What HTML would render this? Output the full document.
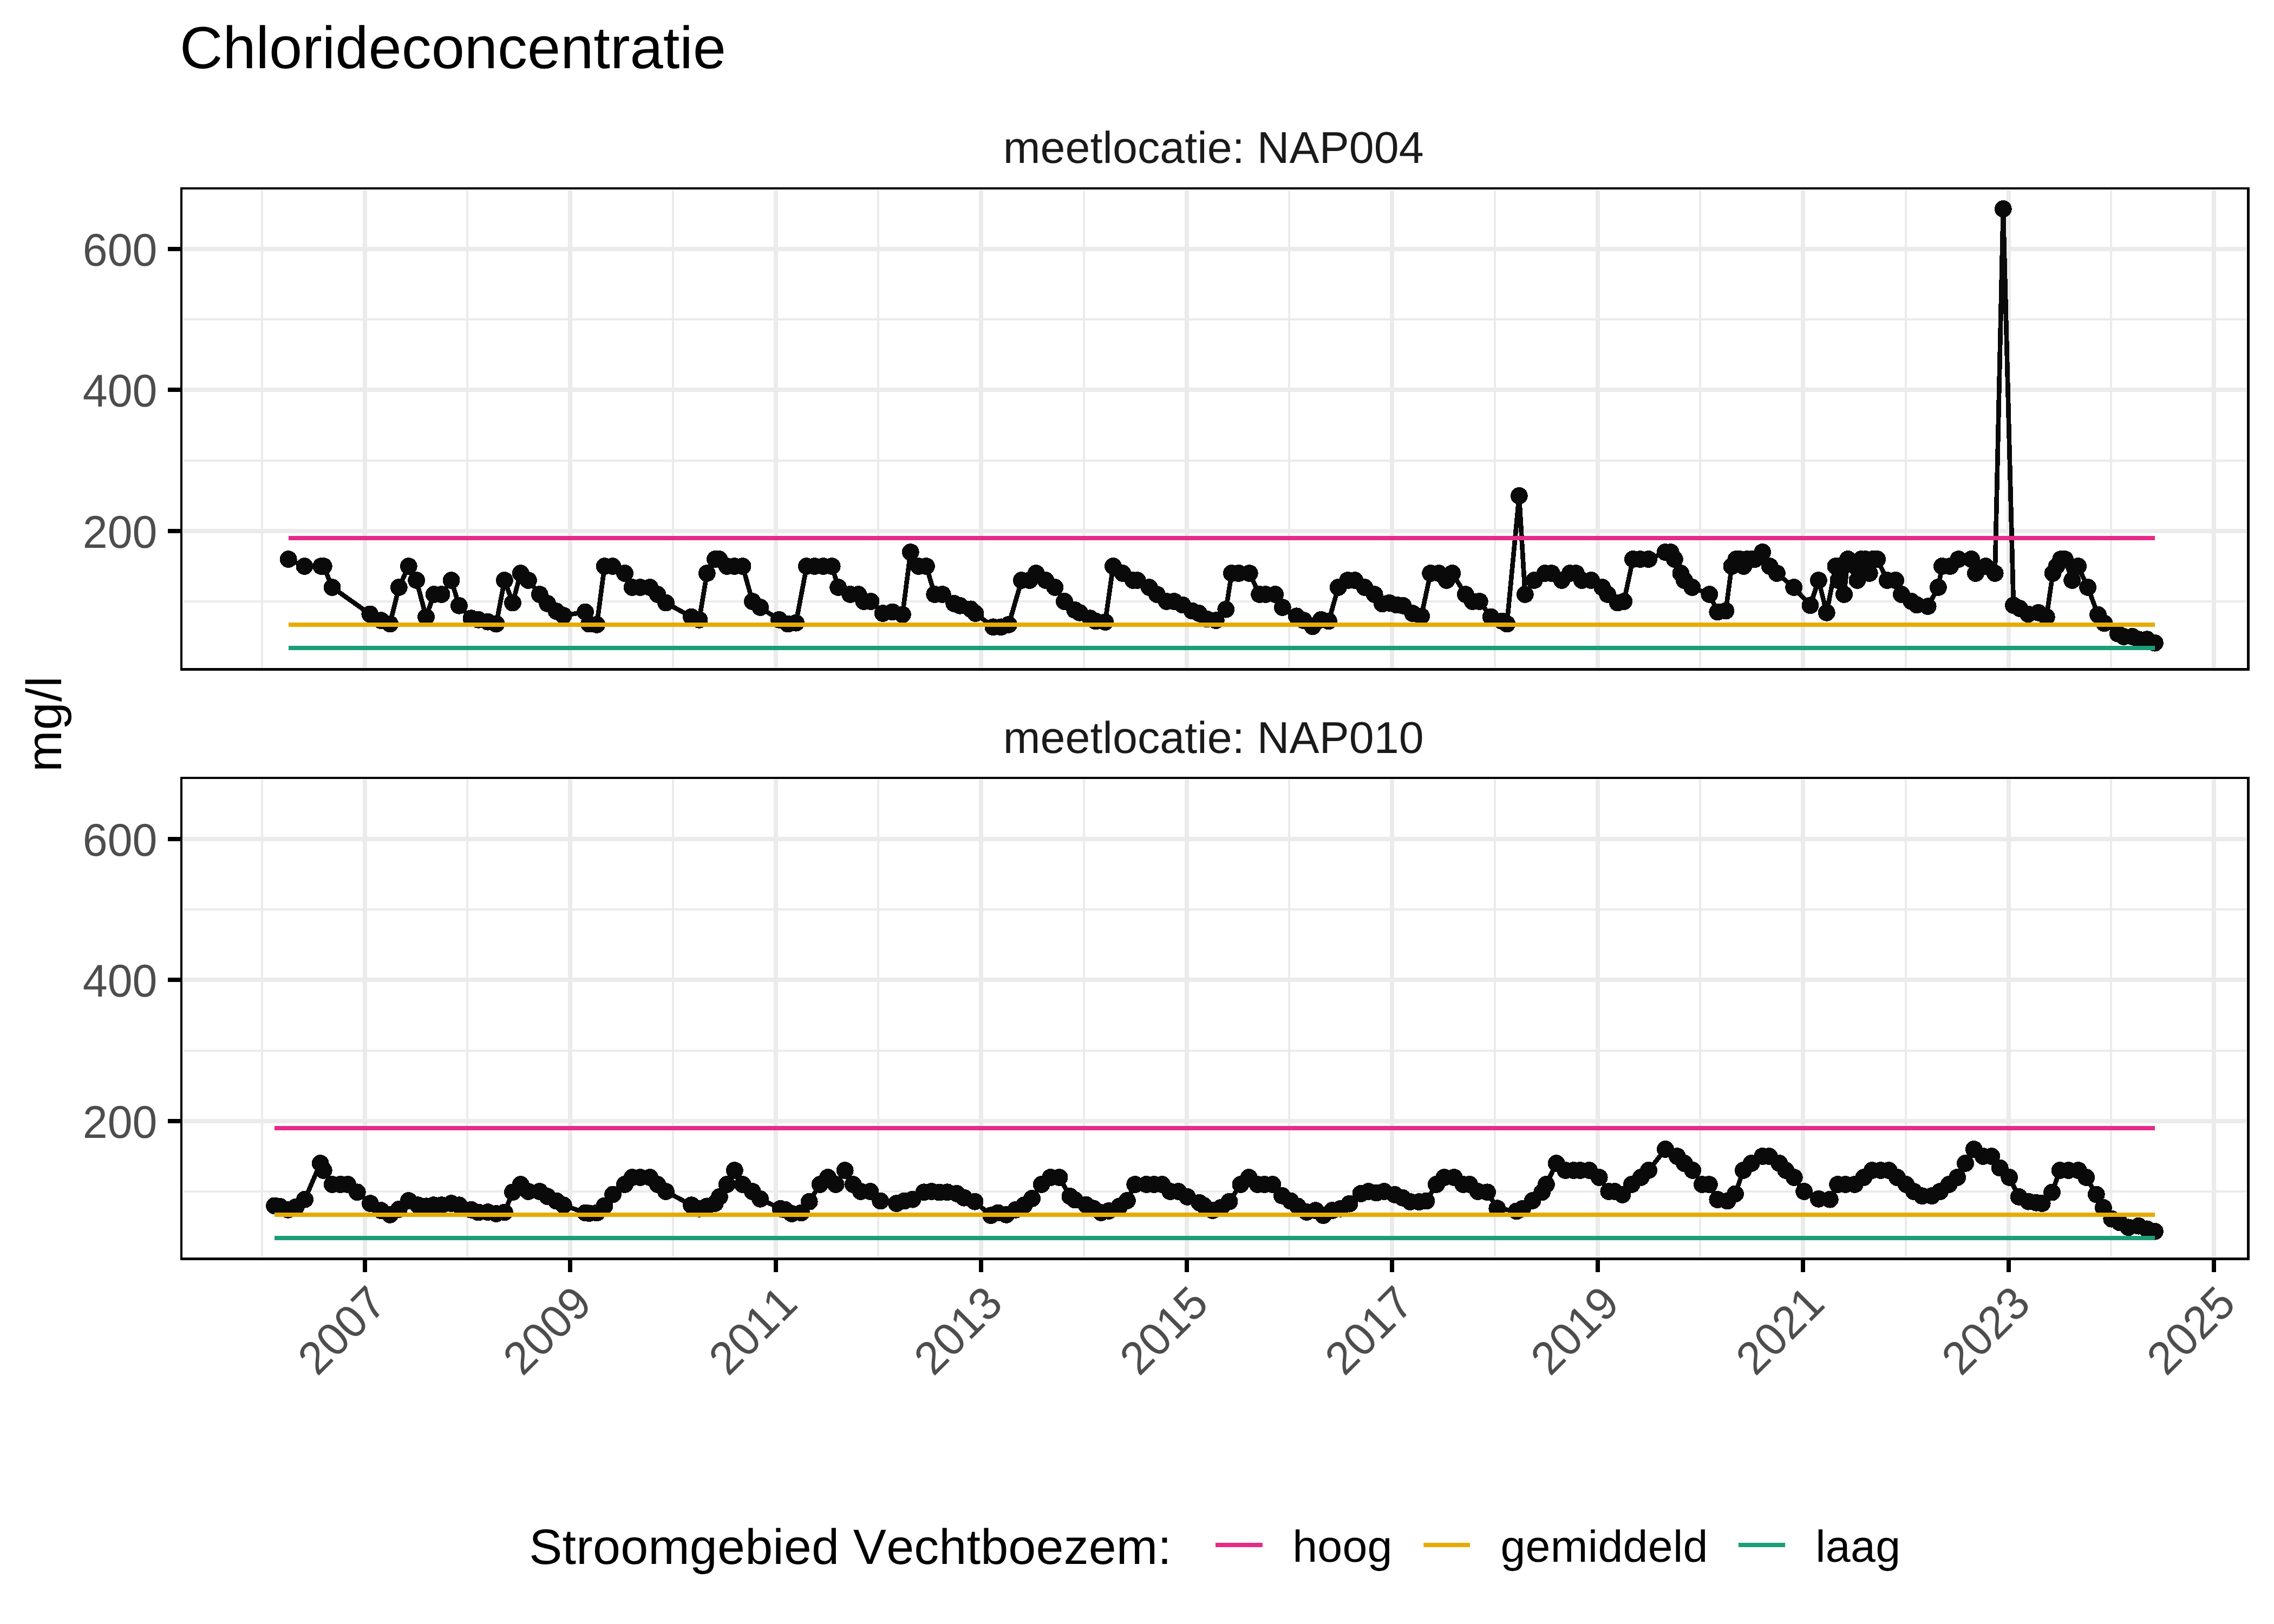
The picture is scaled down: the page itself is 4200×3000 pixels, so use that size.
<!DOCTYPE html>
<html lang="nl"><head><meta charset="utf-8"><title>Chlorideconcentratie</title>
<style>html,body{margin:0;padding:0;background:#fff}body{width:4200px;height:3000px;overflow:hidden}svg{display:block}text{font-family:"Liberation Sans",Arial,sans-serif;font-kerning:none;text-rendering:geometricPrecision}</style></head><body>
<svg width="4200" height="3000" viewBox="0 0 4200 3000">
<rect width="4200" height="3000" fill="#fff"/>
<defs>
<clipPath id="c0"><rect x="333" y="346" width="3822" height="893"/></clipPath>
<clipPath id="g0"><rect x="338" y="351" width="3811" height="882"/></clipPath>
<clipPath id="c1"><rect x="333" y="1435" width="3822" height="893"/></clipPath>
<clipPath id="g1"><rect x="338" y="1440" width="3811" height="882"/></clipPath>
</defs>
<text x="332" y="126.4" font-size="110" fill="#000">Chlorideconcentratie</text>
<g clip-path="url(#g0)">
<path d="M333 1111.0H4155M333 851.0H4155M333 590.0H4155M484 346V1239M863 346V1239M1243 346V1239M1622 346V1239M2002 346V1239M2381 346V1239M2761 346V1239M3140 346V1239M3520 346V1239M3899 346V1239" stroke="#ebebeb" stroke-width="4" fill="none"/>
<path d="M333 981.0H4155M333 720.0H4155M333 460.0H4155M674 346V1239M1053 346V1239M1433 346V1239M1812 346V1239M2192 346V1239M2571 346V1239M2951 346V1239M3330 346V1239M3710 346V1239M4089 346V1239" stroke="#ebebeb" stroke-width="8" fill="none"/>
</g>
<g clip-path="url(#c0)" shape-rendering="crispEdges">
<polyline points="532.7,1033.0 562.4,1046.0 593.2,1046.0 597.8,1046.0 613.6,1085.0 683.3,1134.4 703.8,1146.1 720.3,1152.6 736.8,1085.0 754.8,1046.0 769.1,1072.0 786.9,1139.6 801.6,1098.0 815.6,1098.0 833.6,1072.0 847.9,1118.8 870.4,1142.2 883.6,1144.8 901.1,1148.7 916.5,1152.6 931.9,1072.0 946.9,1113.6 961.6,1059.0 975.9,1072.0 996.8,1098.0 1011.1,1114.9 1027.6,1129.2 1040.8,1137.0 1081.0,1130.5 1088.0,1152.6 1102.3,1153.9 1116.6,1046.0 1131.4,1046.0 1154.0,1059.0 1167.6,1085.0 1182.6,1085.0 1200.2,1085.0 1214.5,1098.0 1229.9,1113.6 1277.1,1139.6 1291.5,1144.8 1305.8,1059.0 1321.0,1033.0 1328.3,1033.0 1342.6,1046.0 1356.9,1046.0 1371.6,1046.0 1389.8,1111.0 1404.1,1122.0 1438.9,1144.8 1455.1,1152.6 1470.1,1150.7 1489.9,1046.0 1504.2,1046.0 1520.7,1046.0 1536.7,1046.0 1548.1,1085.0 1570.1,1098.0 1585.5,1098.0 1595.4,1111.0 1608.6,1111.0 1630.6,1133.1 1648.2,1130.5 1666.9,1135.2 1681.8,1020.0 1696.6,1046.0 1710.9,1046.0 1726.2,1098.0 1740.8,1098.0 1762.2,1114.9 1773.0,1118.8 1792.8,1125.3 1801.6,1133.1 1834.5,1158.3 1848.8,1158.3 1863.1,1153.9 1886.9,1072.0 1901.6,1072.0 1913.7,1059.0 1931.3,1072.0 1948.4,1085.0 1966.0,1111.0 1985.2,1127.0 1994.0,1131.8 2013.7,1142.2 2023.6,1147.4 2041.2,1149.1 2056.0,1046.0 2073.5,1059.0 2092.9,1072.0 2100.6,1072.0 2122.6,1085.0 2136.9,1098.0 2154.5,1111.0 2168.8,1111.0 2184.2,1117.5 2201.7,1128.5 2214.5,1133.1 2229.0,1143.5 2245.8,1146.1 2264.3,1125.7 2274.9,1059.0 2288.0,1059.0 2307.8,1059.0 2326.1,1098.0 2337.5,1098.0 2355.1,1098.0 2368.8,1122.0 2394.7,1138.3 2407.9,1146.1 2424.4,1157.2 2439.8,1144.8 2454.1,1147.4 2471.7,1085.0 2489.2,1072.0 2502.4,1072.0 2520.5,1085.0 2538.7,1098.0 2553.0,1115.4 2566.2,1113.9 2579.4,1117.5 2591.5,1118.8 2609.1,1133.1 2625.1,1138.3 2642.1,1059.0 2657.4,1059.0 2671.7,1072.0 2682.1,1059.0 2706.8,1098.0 2719.6,1111.0 2732.8,1111.0 2753.7,1139.6 2774.5,1147.4 2783.3,1152.6 2805.8,915.9 2816.8,1098.0 2833.9,1072.0 2853.7,1059.0 2865.8,1059.0 2884.5,1072.0 2899.9,1059.0 2910.9,1059.0 2921.9,1072.0 2939.0,1072.0 2959.2,1085.0 2969.1,1098.0 2987.8,1113.6 2999.3,1111.0 3016.0,1033.0 3029.6,1033.0 3045.0,1033.0 3075.8,1020.0 3085.7,1020.0 3092.9,1033.0 3104.4,1059.0 3111.0,1072.0 3125.3,1085.0 3157.3,1098.0 3172.3,1130.5 3187.4,1128.5 3198.4,1046.0 3206.5,1033.0 3213.4,1033.0 3220.4,1046.0 3226.5,1033.0 3234.3,1033.0 3241.5,1033.0 3255.1,1020.0 3268.7,1046.0 3281.9,1059.0 3313.1,1085.0 3343.5,1118.3 3358.9,1072.0 3373.8,1131.8 3390.4,1046.0 3395.4,1072.0 3397.5,1046.0 3406.0,1098.0 3413.0,1033.0 3426.6,1046.0 3430.4,1072.0 3437.7,1033.0 3445.6,1033.0 3452.8,1059.0 3459.1,1033.0 3467.1,1033.0 3485.8,1072.0 3501.0,1072.0 3512.0,1098.0 3530.4,1111.0 3540.3,1117.5 3560.7,1120.1 3579.9,1085.0 3587.0,1046.0 3602.0,1046.0 3617.2,1033.0 3641.0,1033.0 3649.0,1059.0 3667.3,1046.0 3684.7,1059.0 3699.8,385.9 3718.9,1118.2 3730.4,1124.0 3745.8,1134.4 3765.1,1131.8 3779.8,1139.6 3791.5,1059.0 3798.5,1046.0 3806.2,1033.0 3813.9,1033.0 3827.1,1072.0 3838.1,1046.0 3856.1,1085.0 3875.0,1135.7 3886.5,1151.3 3911.8,1170.8 3922.8,1176.0 3938.1,1176.0 3950.2,1181.2 3965.6,1181.2 3979.9,1187.7" fill="none" stroke="#0a0a0a" stroke-width="8.7" stroke-linejoin="round" stroke-linecap="butt"/>
<path d="M532.7 1033.0h.01M562.4 1046.0h.01M593.2 1046.0h.01M597.8 1046.0h.01M613.6 1085.0h.01M683.3 1134.4h.01M703.8 1146.1h.01M720.3 1152.6h.01M736.8 1085.0h.01M754.8 1046.0h.01M769.1 1072.0h.01M786.9 1139.6h.01M801.6 1098.0h.01M815.6 1098.0h.01M833.6 1072.0h.01M847.9 1118.8h.01M870.4 1142.2h.01M883.6 1144.8h.01M901.1 1148.7h.01M916.5 1152.6h.01M931.9 1072.0h.01M946.9 1113.6h.01M961.6 1059.0h.01M975.9 1072.0h.01M996.8 1098.0h.01M1011.1 1114.9h.01M1027.6 1129.2h.01M1040.8 1137.0h.01M1081.0 1130.5h.01M1088.0 1152.6h.01M1102.3 1153.9h.01M1116.6 1046.0h.01M1131.4 1046.0h.01M1154.0 1059.0h.01M1167.6 1085.0h.01M1182.6 1085.0h.01M1200.2 1085.0h.01M1214.5 1098.0h.01M1229.9 1113.6h.01M1277.1 1139.6h.01M1291.5 1144.8h.01M1305.8 1059.0h.01M1321.0 1033.0h.01M1328.3 1033.0h.01M1342.6 1046.0h.01M1356.9 1046.0h.01M1371.6 1046.0h.01M1389.8 1111.0h.01M1404.1 1122.0h.01M1438.9 1144.8h.01M1455.1 1152.6h.01M1470.1 1150.7h.01M1489.9 1046.0h.01M1504.2 1046.0h.01M1520.7 1046.0h.01M1536.7 1046.0h.01M1548.1 1085.0h.01M1570.1 1098.0h.01M1585.5 1098.0h.01M1595.4 1111.0h.01M1608.6 1111.0h.01M1630.6 1133.1h.01M1648.2 1130.5h.01M1666.9 1135.2h.01M1681.8 1020.0h.01M1696.6 1046.0h.01M1710.9 1046.0h.01M1726.2 1098.0h.01M1740.8 1098.0h.01M1762.2 1114.9h.01M1773.0 1118.8h.01M1792.8 1125.3h.01M1801.6 1133.1h.01M1834.5 1158.3h.01M1848.8 1158.3h.01M1863.1 1153.9h.01M1886.9 1072.0h.01M1901.6 1072.0h.01M1913.7 1059.0h.01M1931.3 1072.0h.01M1948.4 1085.0h.01M1966.0 1111.0h.01M1985.2 1127.0h.01M1994.0 1131.8h.01M2013.7 1142.2h.01M2023.6 1147.4h.01M2041.2 1149.1h.01M2056.0 1046.0h.01M2073.5 1059.0h.01M2092.9 1072.0h.01M2100.6 1072.0h.01M2122.6 1085.0h.01M2136.9 1098.0h.01M2154.5 1111.0h.01M2168.8 1111.0h.01M2184.2 1117.5h.01M2201.7 1128.5h.01M2214.5 1133.1h.01M2229.0 1143.5h.01M2245.8 1146.1h.01M2264.3 1125.7h.01M2274.9 1059.0h.01M2288.0 1059.0h.01M2307.8 1059.0h.01M2326.1 1098.0h.01M2337.5 1098.0h.01M2355.1 1098.0h.01M2368.8 1122.0h.01M2394.7 1138.3h.01M2407.9 1146.1h.01M2424.4 1157.2h.01M2439.8 1144.8h.01M2454.1 1147.4h.01M2471.7 1085.0h.01M2489.2 1072.0h.01M2502.4 1072.0h.01M2520.5 1085.0h.01M2538.7 1098.0h.01M2553.0 1115.4h.01M2566.2 1113.9h.01M2579.4 1117.5h.01M2591.5 1118.8h.01M2609.1 1133.1h.01M2625.1 1138.3h.01M2642.1 1059.0h.01M2657.4 1059.0h.01M2671.7 1072.0h.01M2682.1 1059.0h.01M2706.8 1098.0h.01M2719.6 1111.0h.01M2732.8 1111.0h.01M2753.7 1139.6h.01M2774.5 1147.4h.01M2783.3 1152.6h.01M2805.8 915.9h.01M2816.8 1098.0h.01M2833.9 1072.0h.01M2853.7 1059.0h.01M2865.8 1059.0h.01M2884.5 1072.0h.01M2899.9 1059.0h.01M2910.9 1059.0h.01M2921.9 1072.0h.01M2939.0 1072.0h.01M2959.2 1085.0h.01M2969.1 1098.0h.01M2987.8 1113.6h.01M2999.3 1111.0h.01M3016.0 1033.0h.01M3029.6 1033.0h.01M3045.0 1033.0h.01M3075.8 1020.0h.01M3085.7 1020.0h.01M3092.9 1033.0h.01M3104.4 1059.0h.01M3111.0 1072.0h.01M3125.3 1085.0h.01M3157.3 1098.0h.01M3172.3 1130.5h.01M3187.4 1128.5h.01M3198.4 1046.0h.01M3206.5 1033.0h.01M3213.4 1033.0h.01M3220.4 1046.0h.01M3226.5 1033.0h.01M3234.3 1033.0h.01M3241.5 1033.0h.01M3255.1 1020.0h.01M3268.7 1046.0h.01M3281.9 1059.0h.01M3313.1 1085.0h.01M3343.5 1118.3h.01M3358.9 1072.0h.01M3373.8 1131.8h.01M3390.4 1046.0h.01M3395.4 1072.0h.01M3397.5 1046.0h.01M3406.0 1098.0h.01M3413.0 1033.0h.01M3426.6 1046.0h.01M3430.4 1072.0h.01M3437.7 1033.0h.01M3445.6 1033.0h.01M3452.8 1059.0h.01M3459.1 1033.0h.01M3467.1 1033.0h.01M3485.8 1072.0h.01M3501.0 1072.0h.01M3512.0 1098.0h.01M3530.4 1111.0h.01M3540.3 1117.5h.01M3560.7 1120.1h.01M3579.9 1085.0h.01M3587.0 1046.0h.01M3602.0 1046.0h.01M3617.2 1033.0h.01M3641.0 1033.0h.01M3649.0 1059.0h.01M3667.3 1046.0h.01M3684.7 1059.0h.01M3699.8 385.9h.01M3718.9 1118.2h.01M3730.4 1124.0h.01M3745.8 1134.4h.01M3765.1 1131.8h.01M3779.8 1139.6h.01M3791.5 1059.0h.01M3798.5 1046.0h.01M3806.2 1033.0h.01M3813.9 1033.0h.01M3827.1 1072.0h.01M3838.1 1046.0h.01M3856.1 1085.0h.01M3875.0 1135.7h.01M3886.5 1151.3h.01M3911.8 1170.8h.01M3922.8 1176.0h.01M3938.1 1176.0h.01M3950.2 1181.2h.01M3965.6 1181.2h.01M3979.9 1187.7h.01" fill="none" stroke="#0a0a0a" stroke-width="31.8" stroke-linecap="round"/>
<path d="M532.7 994.0H3979.9" stroke="#e7298a" stroke-width="8" fill="none"/>
<path d="M532.7 1153.9H3979.9" stroke="#e6ab02" stroke-width="8" fill="none"/>
<path d="M532.7 1196.8H3979.9" stroke="#1b9e77" stroke-width="8" fill="none"/>
</g>
<path d="M333 346H4155V1239H333ZM337 350V1234H4150V350Z" fill="#000" fill-rule="evenodd"/>
<text transform="translate(290.5,1011.5) scale(1,1.028)" font-size="82.5" fill="#4d4d4d" text-anchor="end">200</text>
<text transform="translate(290.5,750.5) scale(1,1.028)" font-size="82.5" fill="#4d4d4d" text-anchor="end">400</text>
<text transform="translate(290.5,490.5) scale(1,1.028)" font-size="82.5" fill="#4d4d4d" text-anchor="end">600</text>
<path d="M310 981.0H333M310 720.0H333M310 460.0H333" stroke="#000" stroke-width="8" fill="none"/>
<text x="2241.2" y="300.9" font-size="82.5" fill="#1a1a1a" text-anchor="middle" textLength="777">meetlocatie: NAP004</text>
<g clip-path="url(#g1)">
<path d="M333 2201.0H4155M333 1941.0H4155M333 1680.0H4155M484 1435V2328M863 1435V2328M1243 1435V2328M1622 1435V2328M2002 1435V2328M2381 1435V2328M2761 1435V2328M3140 1435V2328M3520 1435V2328M3899 1435V2328" stroke="#ebebeb" stroke-width="4" fill="none"/>
<path d="M333 2071.0H4155M333 1810.0H4155M333 1550.0H4155M674 1435V2328M1053 1435V2328M1433 1435V2328M1812 1435V2328M2192 1435V2328M2571 1435V2328M2951 1435V2328M3330 1435V2328M3710 1435V2328M4089 1435V2328" stroke="#ebebeb" stroke-width="8" fill="none"/>
</g>
<g clip-path="url(#c1)" shape-rendering="crispEdges">
<polyline points="507.0,2227.4 516.9,2228.8 532.3,2234.8 546.6,2229.6 563.1,2215.7 591.7,2149.0 597.8,2162.0 613.6,2188.0 629.0,2188.0 642.2,2188.0 659.8,2202.3 684.0,2223.1 703.8,2236.1 720.3,2243.9 736.8,2234.0 754.8,2217.9 772.0,2226.2 787.3,2228.3 800.8,2226.2 815.6,2226.2 833.6,2223.1 847.9,2226.2 870.4,2234.8 883.6,2239.5 901.1,2239.1 916.5,2242.1 931.9,2239.5 946.9,2202.3 961.6,2188.0 975.9,2201.0 996.8,2201.0 1011.1,2210.1 1027.6,2218.6 1040.8,2226.2 1081.0,2240.5 1088.0,2241.3 1102.3,2240.5 1116.6,2227.4 1132.0,2206.5 1154.0,2188.0 1167.6,2175.0 1182.6,2175.0 1200.2,2175.0 1214.5,2188.0 1229.9,2201.0 1277.0,2226.2 1291.5,2232.8 1305.8,2228.3 1320.6,2223.1 1328.9,2210.9 1342.6,2188.0 1356.9,2162.0 1371.6,2188.0 1389.8,2201.0 1404.1,2214.8 1441.5,2232.8 1450.3,2234.8 1462.4,2242.1 1480.0,2240.5 1494.7,2219.7 1514.5,2188.0 1529.0,2175.0 1543.7,2188.0 1560.7,2162.0 1575.6,2188.0 1589.9,2201.0 1607.5,2201.0 1626.2,2218.6 1655.9,2223.1 1670.2,2218.6 1685.6,2215.7 1706.5,2202.3 1720.7,2201.0 1735.0,2202.6 1749.6,2202.3 1767.2,2204.9 1780.7,2212.7 1800.5,2219.7 1830.1,2245.2 1843.3,2240.5 1858.7,2243.9 1876.3,2234.8 1891.7,2226.2 1906.0,2214.0 1923.6,2188.0 1940.1,2175.0 1956.6,2175.0 1976.4,2210.1 1985.2,2216.6 2006.0,2225.7 2019.2,2232.2 2033.5,2240.0 2047.8,2236.9 2067.6,2228.3 2081.9,2217.9 2096.2,2188.0 2117.1,2188.0 2131.4,2188.0 2146.3,2188.0 2161.1,2201.0 2176.4,2201.0 2192.9,2210.9 2215.2,2221.8 2223.5,2227.0 2239.7,2236.1 2255.1,2230.9 2270.5,2219.7 2291.4,2188.0 2306.7,2175.0 2322.6,2188.0 2335.3,2188.0 2350.3,2188.0 2367.9,2208.8 2383.7,2218.6 2396.9,2228.3 2413.4,2239.1 2429.9,2236.1 2444.2,2245.2 2460.7,2236.1 2476.0,2232.8 2492.5,2223.6 2513.4,2204.9 2527.7,2201.0 2542.0,2203.6 2556.3,2201.0 2576.1,2207.0 2590.4,2212.7 2604.7,2220.1 2621.2,2220.1 2634.4,2218.6 2653.0,2188.0 2667.3,2175.0 2685.8,2175.0 2702.3,2188.0 2714.1,2188.0 2729.5,2201.0 2747.1,2202.3 2765.3,2232.2 2800.9,2237.4 2811.9,2232.8 2830.6,2217.9 2848.2,2202.3 2855.9,2188.0 2874.6,2149.0 2891.1,2162.0 2906.5,2162.0 2918.6,2162.0 2935.1,2162.0 2953.7,2175.0 2971.3,2201.0 2982.3,2201.0 2996.6,2207.0 3013.8,2188.0 3030.7,2175.0 3045.0,2162.0 3076.0,2123.0 3097.8,2136.0 3111.0,2149.0 3126.3,2162.0 3143.9,2188.0 3156.9,2188.0 3172.3,2216.1 3190.7,2218.6 3205.0,2205.4 3219.9,2162.0 3234.7,2149.0 3255.1,2136.0 3267.6,2136.0 3286.3,2149.0 3298.4,2162.0 3313.8,2175.0 3332.1,2201.0 3358.9,2214.8 3379.8,2215.7 3394.1,2188.0 3408.4,2188.0 3425.9,2188.0 3442.4,2175.0 3457.8,2162.0 3473.2,2162.0 3488.6,2162.0 3504.0,2175.0 3520.5,2188.0 3534.8,2201.0 3550.2,2209.2 3567.8,2209.2 3583.2,2201.0 3599.7,2188.0 3615.1,2175.0 3630.0,2149.0 3645.8,2123.0 3662.9,2136.0 3678.3,2136.0 3693.7,2157.4 3711.2,2175.0 3728.8,2210.9 3746.4,2219.7 3760.7,2221.8 3771.7,2223.1 3790.0,2202.6 3804.7,2162.0 3820.1,2162.0 3838.8,2162.0 3853.1,2175.0 3871.8,2206.5 3884.9,2230.9 3900.3,2251.7 3914.6,2258.2 3931.1,2267.3 3949.8,2264.7 3965.2,2270.3 3979.9,2274.7" fill="none" stroke="#0a0a0a" stroke-width="8.7" stroke-linejoin="round" stroke-linecap="butt"/>
<path d="M507.0 2227.4h.01M516.9 2228.8h.01M532.3 2234.8h.01M546.6 2229.6h.01M563.1 2215.7h.01M591.7 2149.0h.01M597.8 2162.0h.01M613.6 2188.0h.01M629.0 2188.0h.01M642.2 2188.0h.01M659.8 2202.3h.01M684.0 2223.1h.01M703.8 2236.1h.01M720.3 2243.9h.01M736.8 2234.0h.01M754.8 2217.9h.01M772.0 2226.2h.01M787.3 2228.3h.01M800.8 2226.2h.01M815.6 2226.2h.01M833.6 2223.1h.01M847.9 2226.2h.01M870.4 2234.8h.01M883.6 2239.5h.01M901.1 2239.1h.01M916.5 2242.1h.01M931.9 2239.5h.01M946.9 2202.3h.01M961.6 2188.0h.01M975.9 2201.0h.01M996.8 2201.0h.01M1011.1 2210.1h.01M1027.6 2218.6h.01M1040.8 2226.2h.01M1081.0 2240.5h.01M1088.0 2241.3h.01M1102.3 2240.5h.01M1116.6 2227.4h.01M1132.0 2206.5h.01M1154.0 2188.0h.01M1167.6 2175.0h.01M1182.6 2175.0h.01M1200.2 2175.0h.01M1214.5 2188.0h.01M1229.9 2201.0h.01M1277.0 2226.2h.01M1291.5 2232.8h.01M1305.8 2228.3h.01M1320.6 2223.1h.01M1328.9 2210.9h.01M1342.6 2188.0h.01M1356.9 2162.0h.01M1371.6 2188.0h.01M1389.8 2201.0h.01M1404.1 2214.8h.01M1441.5 2232.8h.01M1450.3 2234.8h.01M1462.4 2242.1h.01M1480.0 2240.5h.01M1494.7 2219.7h.01M1514.5 2188.0h.01M1529.0 2175.0h.01M1543.7 2188.0h.01M1560.7 2162.0h.01M1575.6 2188.0h.01M1589.9 2201.0h.01M1607.5 2201.0h.01M1626.2 2218.6h.01M1655.9 2223.1h.01M1670.2 2218.6h.01M1685.6 2215.7h.01M1706.5 2202.3h.01M1720.7 2201.0h.01M1735.0 2202.6h.01M1749.6 2202.3h.01M1767.2 2204.9h.01M1780.7 2212.7h.01M1800.5 2219.7h.01M1830.1 2245.2h.01M1843.3 2240.5h.01M1858.7 2243.9h.01M1876.3 2234.8h.01M1891.7 2226.2h.01M1906.0 2214.0h.01M1923.6 2188.0h.01M1940.1 2175.0h.01M1956.6 2175.0h.01M1976.4 2210.1h.01M1985.2 2216.6h.01M2006.0 2225.7h.01M2019.2 2232.2h.01M2033.5 2240.0h.01M2047.8 2236.9h.01M2067.6 2228.3h.01M2081.9 2217.9h.01M2096.2 2188.0h.01M2117.1 2188.0h.01M2131.4 2188.0h.01M2146.3 2188.0h.01M2161.1 2201.0h.01M2176.4 2201.0h.01M2192.9 2210.9h.01M2215.2 2221.8h.01M2223.5 2227.0h.01M2239.7 2236.1h.01M2255.1 2230.9h.01M2270.5 2219.7h.01M2291.4 2188.0h.01M2306.7 2175.0h.01M2322.6 2188.0h.01M2335.3 2188.0h.01M2350.3 2188.0h.01M2367.9 2208.8h.01M2383.7 2218.6h.01M2396.9 2228.3h.01M2413.4 2239.1h.01M2429.9 2236.1h.01M2444.2 2245.2h.01M2460.7 2236.1h.01M2476.0 2232.8h.01M2492.5 2223.6h.01M2513.4 2204.9h.01M2527.7 2201.0h.01M2542.0 2203.6h.01M2556.3 2201.0h.01M2576.1 2207.0h.01M2590.4 2212.7h.01M2604.7 2220.1h.01M2621.2 2220.1h.01M2634.4 2218.6h.01M2653.0 2188.0h.01M2667.3 2175.0h.01M2685.8 2175.0h.01M2702.3 2188.0h.01M2714.1 2188.0h.01M2729.5 2201.0h.01M2747.1 2202.3h.01M2765.3 2232.2h.01M2800.9 2237.4h.01M2811.9 2232.8h.01M2830.6 2217.9h.01M2848.2 2202.3h.01M2855.9 2188.0h.01M2874.6 2149.0h.01M2891.1 2162.0h.01M2906.5 2162.0h.01M2918.6 2162.0h.01M2935.1 2162.0h.01M2953.7 2175.0h.01M2971.3 2201.0h.01M2982.3 2201.0h.01M2996.6 2207.0h.01M3013.8 2188.0h.01M3030.7 2175.0h.01M3045.0 2162.0h.01M3076.0 2123.0h.01M3097.8 2136.0h.01M3111.0 2149.0h.01M3126.3 2162.0h.01M3143.9 2188.0h.01M3156.9 2188.0h.01M3172.3 2216.1h.01M3190.7 2218.6h.01M3205.0 2205.4h.01M3219.9 2162.0h.01M3234.7 2149.0h.01M3255.1 2136.0h.01M3267.6 2136.0h.01M3286.3 2149.0h.01M3298.4 2162.0h.01M3313.8 2175.0h.01M3332.1 2201.0h.01M3358.9 2214.8h.01M3379.8 2215.7h.01M3394.1 2188.0h.01M3408.4 2188.0h.01M3425.9 2188.0h.01M3442.4 2175.0h.01M3457.8 2162.0h.01M3473.2 2162.0h.01M3488.6 2162.0h.01M3504.0 2175.0h.01M3520.5 2188.0h.01M3534.8 2201.0h.01M3550.2 2209.2h.01M3567.8 2209.2h.01M3583.2 2201.0h.01M3599.7 2188.0h.01M3615.1 2175.0h.01M3630.0 2149.0h.01M3645.8 2123.0h.01M3662.9 2136.0h.01M3678.3 2136.0h.01M3693.7 2157.4h.01M3711.2 2175.0h.01M3728.8 2210.9h.01M3746.4 2219.7h.01M3760.7 2221.8h.01M3771.7 2223.1h.01M3790.0 2202.6h.01M3804.7 2162.0h.01M3820.1 2162.0h.01M3838.8 2162.0h.01M3853.1 2175.0h.01M3871.8 2206.5h.01M3884.9 2230.9h.01M3900.3 2251.7h.01M3914.6 2258.2h.01M3931.1 2267.3h.01M3949.8 2264.7h.01M3965.2 2270.3h.01M3979.9 2274.7h.01" fill="none" stroke="#0a0a0a" stroke-width="31.8" stroke-linecap="round"/>
<path d="M507.0 2084.0H3979.9" stroke="#e7298a" stroke-width="8" fill="none"/>
<path d="M507.0 2243.9H3979.9" stroke="#e6ab02" stroke-width="8" fill="none"/>
<path d="M507.0 2286.8H3979.9" stroke="#1b9e77" stroke-width="8" fill="none"/>
</g>
<path d="M333 1435H4155V2328H333ZM337 1439V2323H4150V1439Z" fill="#000" fill-rule="evenodd"/>
<text transform="translate(290.5,2101.5) scale(1,1.028)" font-size="82.5" fill="#4d4d4d" text-anchor="end">200</text>
<text transform="translate(290.5,1840.5) scale(1,1.028)" font-size="82.5" fill="#4d4d4d" text-anchor="end">400</text>
<text transform="translate(290.5,1580.5) scale(1,1.028)" font-size="82.5" fill="#4d4d4d" text-anchor="end">600</text>
<path d="M310 2071.0H333M310 1810.0H333M310 1550.0H333" stroke="#000" stroke-width="8" fill="none"/>
<text x="2241.2" y="1390.9" font-size="82.5" fill="#1a1a1a" text-anchor="middle" textLength="777">meetlocatie: NAP010</text>
<text transform="translate(675.1,2369.6) rotate(-45) translate(0,60.4) scale(1.015,1.028)" font-size="82.5" fill="#4d4d4d" text-anchor="end">2007</text>
<text transform="translate(1054.1,2369.6) rotate(-45) translate(0,60.4) scale(1.015,1.028)" font-size="82.5" fill="#4d4d4d" text-anchor="end">2009</text>
<text transform="translate(1434.1,2369.6) rotate(-45) translate(0,60.4) scale(1.015,1.028)" font-size="82.5" fill="#4d4d4d" text-anchor="end">2011</text>
<text transform="translate(1813.1,2369.6) rotate(-45) translate(0,60.4) scale(1.015,1.028)" font-size="82.5" fill="#4d4d4d" text-anchor="end">2013</text>
<text transform="translate(2193.1,2369.6) rotate(-45) translate(0,60.4) scale(1.015,1.028)" font-size="82.5" fill="#4d4d4d" text-anchor="end">2015</text>
<text transform="translate(2572.1,2369.6) rotate(-45) translate(0,60.4) scale(1.015,1.028)" font-size="82.5" fill="#4d4d4d" text-anchor="end">2017</text>
<text transform="translate(2952.1,2369.6) rotate(-45) translate(0,60.4) scale(1.015,1.028)" font-size="82.5" fill="#4d4d4d" text-anchor="end">2019</text>
<text transform="translate(3331.1,2369.6) rotate(-45) translate(0,60.4) scale(1.015,1.028)" font-size="82.5" fill="#4d4d4d" text-anchor="end">2021</text>
<text transform="translate(3711.1,2369.6) rotate(-45) translate(0,60.4) scale(1.015,1.028)" font-size="82.5" fill="#4d4d4d" text-anchor="end">2023</text>
<text transform="translate(4090.1,2369.6) rotate(-45) translate(0,60.4) scale(1.015,1.028)" font-size="82.5" fill="#4d4d4d" text-anchor="end">2025</text>
<path d="M674 2328V2350M1053 2328V2350M1433 2328V2350M1812 2328V2350M2192 2328V2350M2571 2328V2350M2951 2328V2350M3330 2328V2350M3710 2328V2350M4089 2328V2350" stroke="#000" stroke-width="8" fill="none"/>
<text transform="translate(113,1337.5) rotate(-90)" font-size="91.67" fill="#000" text-anchor="middle" textLength="176.5">mg/l</text>
<text x="977.3" y="2888.5" font-size="91.67" fill="#000" textLength="1186.5">Stroomgebied Vechtboezem:</text>
<path d="M2245.0 2854H2331.9" stroke="#e7298a" stroke-width="8" fill="none"/>
<path d="M2629.2 2854H2715.0" stroke="#e6ab02" stroke-width="8" fill="none"/>
<path d="M3210.9 2854H3297.1" stroke="#1b9e77" stroke-width="8" fill="none"/>
<text x="2387.2" y="2885.3" font-size="82.5" fill="#000" textLength="184.3">hoog</text>
<text x="2771.4" y="2885.3" font-size="82.5" fill="#000" textLength="383">gemiddeld</text>
<text x="3353.2" y="2885.3" font-size="82.5" fill="#000" textLength="157">laag</text>
</svg></body></html>
